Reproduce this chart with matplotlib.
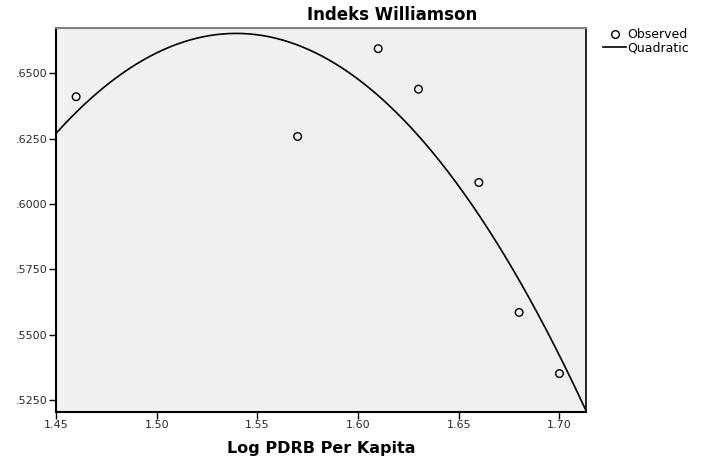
import numpy as np
import matplotlib
matplotlib.use("Agg")
import matplotlib.pyplot as plt
from matplotlib.lines import Line2D

# Data
log_pdrb = [1.46, 1.57, 1.61, 1.63, 1.66, 1.68, 1.70]
williamson = [0.6410, 0.6258, 0.6594, 0.6439, 0.6082, 0.5585, 0.5351]
x_ticks = [1.45, 1.50, 1.55, 1.60, 1.65, 1.70]
x_tick_labels = ["1.45", "1.50", "1.55", "1.60", "1.65", "1.70"]
y_ticks = [0.5250, 0.5500, 0.5750, 0.6000, 0.6250, 0.6500]
y_tick_labels = [".5250", ".5500", ".5750", ".6000", ".6250", ".6500"]

plt.rcParams['font.family'] = ['DejaVu Sans']

fig = plt.figure(figsize=(7.04, 4.57), dpi=100)
ax = fig.add_axes([56/704, 1-412/457, (586-56)/704, (412-28)/457])
ax.set_facecolor('#f0f0f0')

xlim = (1.45, 1.7132)
ylim = (0.5204, 0.6673)

# Quadratic fit (as SPSS curve estimation)
coef = np.polyfit(log_pdrb, williamson, 2)
xs = np.linspace(xlim[0], xlim[1], 400)
ax.plot(xs, np.polyval(coef, xs), color='black', lw=1.2)

ax.scatter(log_pdrb, williamson, s=30, facecolors='none', edgecolors='black', linewidths=1.0, zorder=3)

ax.set_xlim(*xlim)
ax.set_ylim(*ylim)
ax.set_xticks(x_ticks)
ax.set_xticklabels(x_tick_labels)
ax.set_yticks(y_ticks)
ax.set_yticklabels(y_tick_labels)
ax.tick_params(axis='both', direction='out', length=5, width=1, color='black',
               labelsize=8, labelcolor='#2a2a2a', pad=1.0)

for s in ['left', 'bottom']:
    ax.spines[s].set_linewidth(1.5)
    ax.spines[s].set_color('black')
ax.spines['right'].set_linewidth(1.2)
ax.spines['right'].set_color('black')
ax.spines['top'].set_linewidth(1.5)
ax.spines['top'].set_color('#808080')

fig.text(392/704, 1-15/457, "Indeks Williamson", ha='center', va='center',
         fontsize=12, fontweight='bold')
ax.set_xlabel("Log PDRB Per Kapita", fontsize=11.5, fontweight='bold', labelpad=8)

handles = [Line2D([], [], marker='o', ls='none', markerfacecolor='none',
                  markeredgecolor='black', markersize=5.5),
           Line2D([], [], color='black', lw=1.2)]
fig.legend(handles, ["Observed", "Quadratic"], loc='upper left',
           bbox_to_anchor=(597/704, 1-22/457), frameon=False, fontsize=9,
           handlelength=1.8, handletextpad=0.1, labelspacing=0.0, borderpad=0)

fig.savefig("out.png", dpi=100)
